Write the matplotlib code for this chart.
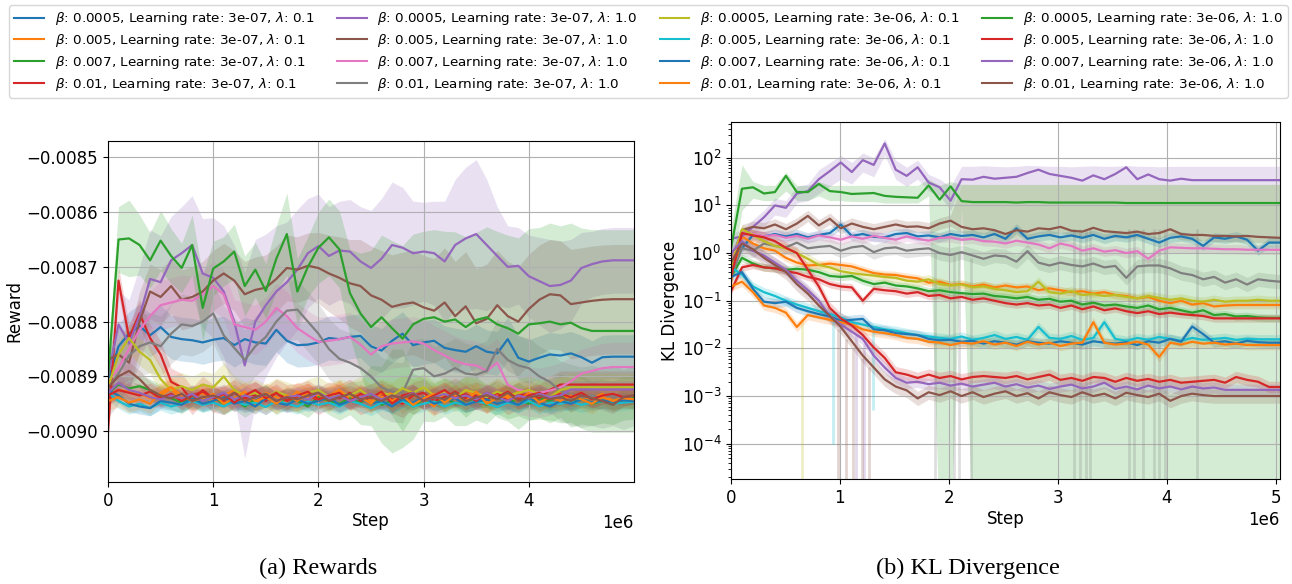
import numpy as np
import matplotlib
matplotlib.use("Agg")
import matplotlib.pyplot as plt
from matplotlib.lines import Line2D

# ---------------- legend / series identity ----------------
betas = ["0.0005", "0.005", "0.007", "0.01"] * 4
lrs = ["3e-07"] * 8 + ["3e-06"] * 8
lams = (["0.1"] * 4 + ["1.0"] * 4) * 2
labels = [rf"$\beta$: {b}, Learning rate: {lr}, $\lambda$: {l}"
          for b, lr, l in zip(betas, lrs, lams)]
colors = [f"C{k % 10}" for k in range(16)]

# ---------------- x values ----------------
steps_reward = np.linspace(0, 5.0e6, 51)
steps_kl = np.linspace(0, 5.04e6, 51)

# ---------------- Reward means (units of 1e-6) ----------------
reward_k0 = [-8910, -8845, -8822, -8808, -8825, -8810, -8828, -8832, -8834, -8838,
             -8833, -8830, -8843, -8832, -8838, -8840, -8815, -8835, -8843, -8842,
             -8838, -8830, -8832, -8828, -8826, -8845, -8853, -8835, -8822, -8843,
             -8838, -8835, -8848, -8852, -8855, -8845, -8855, -8858, -8832, -8866,
             -8873, -8866, -8860, -8862, -8858, -8865, -8875, -8865, -8864, -8864,
             -8864]
reward_k1 = [-8935, -8925, -8928, -8932, -8940, -8935, -8922, -8945, -8938, -8930,
             -8948, -8935, -8925, -8942, -8950, -8930, -8938, -8945, -8928, -8940,
             -8935, -8948, -8925, -8940, -8932, -8945, -8938, -8930, -8950, -8935,
             -8940, -8955, -8930, -8942, -8925, -8938, -8948, -8932, -8940, -8928,
             -8945, -8935, -8942, -8930, -8948, -8938, -8940, -8932, -8945, -8938,
             -8940]
reward_k2 = [-8930, -8915, -8922, -8918, -8925, -8935, -8940, -8948, -8935, -8945,
             -8938, -8950, -8940, -8955, -8942, -8935, -8950, -8940, -8945, -8955,
             -8938, -8945, -8950, -8940, -8948, -8935, -8952, -8945, -8940, -8955,
             -8942, -8948, -8938, -8950, -8945, -8940, -8952, -8938, -8948, -8942,
             -8950, -8940, -8945, -8935, -8948, -8942, -8950, -8945, -8948, -8940,
             -8938]
reward_k3 = [-9000, -8725, -8830, -8785, -8830, -8860, -8910, -8920, -8945, -8925,
             -8940, -8945, -8930, -8940, -8935, -8945, -8930, -8940, -8938, -8932,
             -8945, -8935, -8940, -8930, -8945, -8938, -8932, -8942, -8950, -8935,
             -8930, -8945, -8938, -8928, -8940, -8935, -8942, -8930, -8945, -8935,
             -8932, -8940, -8925, -8915, -8915, -8915, -8915, -8915, -8915, -8915,
             -8915]
reward_k4 = [-8900, -8805, -8840, -8790, -8722, -8728, -8688, -8675, -8660, -8712,
             -8720, -8745, -8800, -8880, -8800, -8770, -8745, -8728, -8705, -8675,
             -8662, -8680, -8670, -8672, -8690, -8702, -8685, -8660, -8665, -8675,
             -8672, -8675, -8690, -8660, -8648, -8640, -8660, -8680, -8700, -8698,
             -8717, -8726, -8735, -8733, -8725, -8702, -8695, -8690, -8688, -8688,
             -8688]
reward_k5 = [-8870, -8860, -8875, -8800, -8745, -8755, -8735, -8760, -8755, -8745,
             -8725, -8712, -8725, -8750, -8742, -8738, -8722, -8702, -8705, -8698,
             -8702, -8712, -8720, -8730, -8735, -8752, -8760, -8773, -8768, -8765,
             -8774, -8780, -8765, -8790, -8772, -8803, -8795, -8770, -8790, -8800,
             -8777, -8760, -8750, -8752, -8768, -8765, -8762, -8760, -8759, -8759,
             -8759]
reward_k6 = [-8910, -8885, -8850, -8815, -8790, -8770, -8765, -8760, -8762, -8750,
             -8735, -8750, -8805, -8810, -8815, -8800, -8775, -8790, -8812, -8825,
             -8837, -8835, -8832, -8828, -8842, -8860, -8845, -8840, -8838, -8836,
             -8840, -8852, -8862, -8872, -8878, -8880, -8890, -8875, -8915, -8925,
             -8928, -8930, -8926, -8920, -8909, -8895, -8890, -8885, -8883, -8883,
             -8883]
reward_k7 = [-8920, -8895, -8862, -8845, -8838, -8845, -8822, -8805, -8808, -8800,
             -8785, -8825, -8848, -8870, -8845, -8828, -8800, -8780, -8778, -8800,
             -8822, -8850, -8868, -8875, -8885, -8900, -8920, -8928, -8930, -8888,
             -8885, -8900, -8895, -8885, -8895, -8897, -8890, -8850, -8870, -8880,
             -8885, -8900, -8910, -8927, -8933, -8938, -8935, -8940, -8935, -8942,
             -8935]
reward_k8 = [-8920, -8860, -8830, -8855, -8870, -8905, -8925, -8918, -8925, -8915,
             -8920, -8900, -8925, -8935, -8930, -8940, -8928, -8935, -8942, -8930,
             -8925, -8938, -8930, -8935, -8925, -8940, -8930, -8935, -8922, -8930,
             -8920, -8935, -8928, -8940, -8925, -8930, -8938, -8928, -8935, -8930,
             -8925, -8932, -8938, -8925, -8920, -8920, -8920, -8920, -8920, -8920,
             -8920]
reward_k9 = [-8930, -8945, -8955, -8950, -8958, -8948, -8955, -8950, -8945, -8952,
             -8948, -8955, -8945, -8952, -8948, -8956, -8945, -8950, -8955, -8946,
             -8952, -8948, -8955, -8945, -8950, -8958, -8948, -8952, -8945, -8955,
             -8950, -8946, -8955, -8948, -8952, -8945, -8950, -8956, -8948, -8952,
             -8945, -8955, -8948, -8950, -8946, -8952, -8948, -8945, -8950, -8948,
             -8946]
reward_k10 = [-8925, -8935, -8950, -8955, -8958, -8945, -8948, -8952, -8940, -8950,
              -8945, -8938, -8950, -8945, -8955, -8940, -8948, -8952, -8942, -8950,
              -8945, -8938, -8952, -8945, -8940, -8950, -8945, -8955, -8942, -8948,
              -8938, -8950, -8945, -8940, -8952, -8946, -8942, -8950, -8945, -8952,
              -8940, -8948, -8955, -8945, -8950, -8942, -8948, -8944, -8946, -8944,
              -8945]
reward_k11 = [-8945, -8938, -8948, -8942, -8950, -8930, -8920, -8935, -8945, -8940,
              -8932, -8950, -8940, -8928, -8945, -8938, -8950, -8935, -8945, -8930,
              -8942, -8935, -8925, -8945, -8938, -8950, -8930, -8945, -8935, -8952,
              -8940, -8932, -8948, -8935, -8945, -8928, -8950, -8940, -8935, -8945,
              -8930, -8948, -8938, -8945, -8935, -8942, -8950, -8938, -8945, -8940,
              -8942]
reward_k12 = [-8900, -8650, -8648, -8660, -8688, -8652, -8680, -8702, -8660, -8775,
              -8703, -8690, -8672, -8735, -8705, -8744, -8685, -8640, -8745, -8700,
              -8665, -8646, -8668, -8748, -8785, -8810, -8792, -8812, -8831, -8805,
              -8795, -8792, -8800, -8796, -8810, -8797, -8792, -8805, -8812, -8822,
              -8805, -8803, -8800, -8805, -8802, -8812, -8817, -8817, -8817, -8817,
              -8817]
reward_k13 = [-8935, -8925, -8930, -8935, -8928, -8940, -8932, -8945, -8935, -8928,
              -8940, -8932, -8948, -8935, -8925, -8940, -8930, -8945, -8935, -8928,
              -8942, -8935, -8930, -8945, -8932, -8940, -8928, -8950, -8935, -8930,
              -8945, -8935, -8925, -8940, -8932, -8945, -8930, -8938, -8928, -8942,
              -8935, -8930, -8940, -8932, -8938, -8930, -8942, -8935, -8932, -8938,
              -8935]
reward_k14 = [-8930, -8912, -8925, -8930, -8938, -8942, -8935, -8940, -8932, -8945,
              -8938, -8930, -8942, -8935, -8940, -8932, -8945, -8938, -8935, -8942,
              -8930, -8940, -8935, -8945, -8938, -8932, -8942, -8935, -8940, -8930,
              -8945, -8938, -8932, -8940, -8935, -8942, -8930, -8938, -8945, -8935,
              -8940, -8932, -8938, -8935, -8924, -8924, -8924, -8924, -8924, -8924,
              -8924]
reward_k15 = [-8920, -8900, -8890, -8905, -8925, -8935, -8940, -8932, -8945, -8938,
              -8935, -8942, -8930, -8945, -8938, -8932, -8945, -8938, -8942, -8935,
              -8930, -8945, -8938, -8932, -8942, -8938, -8945, -8935, -8940, -8932,
              -8945, -8938, -8942, -8930, -8945, -8938, -8935, -8942, -8930, -8945,
              -8938, -8935, -8942, -8938, -8945, -8935, -8940, -8945, -8952, -8938,
              -8935]

# Reward std (units of 1e-6)
reward_sd_k12 = [30, 60, 70, 55, 50, 55, 50, 45, 55, 60,
                 50, 45, 50, 55, 50, 50, 60, 75, 60, 55,
                 65, 70, 70, 80, 110, 140, 150, 160, 170, 165,
                 160, 160, 165, 160, 165, 160, 165, 170, 170, 175,
                 175, 175, 180, 180, 182, 183, 185, 185, 185, 185,
                 185]
reward_sd_k4 = [20, 60, 80, 90, 90, 85, 80, 85, 90, 100,
                110, 120, 140, 170, 150, 130, 120, 110, 110, 100,
                95, 90, 90, 95, 100, 105, 110, 115, 110, 95,
                90, 95, 110, 120, 130, 136, 120, 90, 75, 70,
                75, 80, 85, 80, 75, 65, 60, 60, 60, 60,
                60]
reward_sd_k5 = [20, 50, 55, 55, 50, 50, 50, 55, 55, 55,
                55, 55, 55, 60, 60, 60, 60, 60, 60, 60,
                65, 70, 75, 80, 85, 90, 90, 95, 95, 95,
                95, 95, 100, 100, 100, 100, 100, 100, 100, 100,
                100, 100, 100, 100, 100, 100, 100, 100, 100, 100,
                100]
reward_sd_k2 = [15, 20, 20, 20, 20, 20, 20, 20, 20, 20,
                20, 20, 20, 20, 20, 20, 20, 20, 20, 20,
                20, 25, 30, 30, 40, 55, 70, 95, 90, 60,
                40, 35, 35, 40, 45, 40, 35, 30, 30, 30,
                30, 35, 40, 40, 45, 45, 40, 40, 40, 40,
                40]
reward_sd_const = [40, 18, None, 25, None, None, 45, 55, 25, 14, 14, 18, None, 16, 16, 16]

# ---------------- KL means (log10) ----------------
kl_k0 = [-0.3, 0.1, 0.38, 0.35, 0.4, 0.35, 0.4, 0.33, 0.38, 0.42,
         0.6, 0.36, 0.4, 0.34, 0.33, 0.4, 0.42, 0.35, 0.37, 0.33,
         0.4, 0.36, 0.38, 0.33, 0.4, 0.3, 0.52, 0.3, 0.35, 0.38,
         0.33, 0.37, 0.32, 0.38, 0.3, 0.36, 0.33, 0.38, 0.3, 0.22,
         0.32, 0.35, 0.3, 0.15, 0.33, 0.3, 0.35, 0.28, 0.05, 0.22,
         0.22]
kl_k1 = [-0.6, 0.35, 0.2, 0.1, 0.05, -0.1, -0.2, -0.26, -0.25, -0.22,
         -0.25, -0.28, -0.35, -0.42, -0.45, -0.46, -0.5, -0.53, -0.62, -0.6,
         -0.67, -0.65, -0.7, -0.66, -0.72, -0.68, -0.72, -0.7, -0.78, -0.74,
         -0.78, -0.82, -0.8, -0.85, -0.82, -0.88, -0.9, -0.95, -0.92, -1.0,
         -1.05, -1.0, -1.08, -1.05, -1.12, -1.1, -1.09, -1.09, -1.09, -1.09,
         -1.09]
kl_k2 = [-0.5, -0.1, -0.22, -0.3, -0.32, -0.35, -0.33, -0.35, -0.4, -0.48,
         -0.5, -0.48, -0.58, -0.65, -0.62, -0.68, -0.7, -0.74, -0.8, -0.78,
         -0.82, -0.84, -0.86, -0.85, -0.9, -0.92, -0.95, -0.92, -0.98, -0.96,
         -1.02, -1.0, -1.08, -1.04, -1.1, -1.08, -1.12, -1.15, -1.1, -1.18,
         -1.15, -1.2, -1.25, -1.2, -1.3, -1.28, -1.33, -1.32, -1.35, -1.36,
         -1.36]
kl_k3 = [-0.8, -0.3, -0.25, -0.3, -0.32, -0.38, -0.42, -0.5, -0.55, -0.65,
         -0.7, -0.72, -1.0, -0.75, -0.78, -0.8, -0.85, -0.82, -0.9, -0.88,
         -0.95, -0.92, -0.98, -0.95, -1.0, -1.05, -1.08, -1.05, -1.1, -1.08,
         -1.15, -1.1, -1.18, -1.12, -1.2, -1.16, -1.22, -1.26, -1.22, -1.28,
         -1.25, -1.28, -1.3, -1.32, -1.37, -1.37, -1.37, -1.37, -1.37, -1.37,
         -1.37]
kl_k4 = [0.3, 0.35, 0.55, 0.75, 1.0, 0.95, 1.25, 1.3, 1.55, 1.72,
         1.9, 1.7, 1.95, 1.85, 2.3, 1.75, 1.62, 1.8, 1.48, 1.38,
         1.1, 1.55, 1.54, 1.6, 1.56, 1.58, 1.6, 1.68, 1.75, 1.66,
         1.62, 1.58, 1.52, 1.63, 1.55, 1.66, 1.8, 1.55, 1.65, 1.55,
         1.52, 1.56, 1.53, 1.53, 1.53, 1.53, 1.53, 1.53, 1.53, 1.53,
         1.53]
kl_k5 = [-0.2, 0.48, 0.55, 0.52, 0.6, 0.5, 0.62, 0.78, 0.58, 0.72,
         0.52, 0.62, 0.55, 0.5, 0.55, 0.6, 0.55, 0.56, 0.52, 0.62,
         0.68, 0.55, 0.5, 0.52, 0.48, 0.4, 0.48, 0.45, 0.52, 0.5,
         0.55, 0.47, 0.45, 0.53, 0.46, 0.44, 0.42, 0.45, 0.4, 0.42,
         0.5, 0.4, 0.38, 0.38, 0.36, 0.36, 0.35, 0.36, 0.34, 0.33,
         0.32]
kl_k6 = [-0.2, 0.45, 0.4, 0.35, 0.38, 0.32, 0.36, 0.3, 0.37, 0.33,
         0.28, 0.35, 0.3, 0.36, 0.32, 0.28, 0.35, 0.3, 0.26, 0.32,
         0.33, 0.28, 0.3, 0.25, 0.24, 0.2, 0.26, 0.22, 0.18, 0.1,
         0.2, 0.15, 0.05, 0.1, 0.03, 0.06, 0.0, 0.04, -0.12, 0.05,
         0.12, 0.11, 0.1, 0.1, 0.09, 0.08, 0.08, 0.07, 0.07, 0.07,
         0.07]
kl_k7 = [-0.5, 0.1, 0.05, 0.2, 0.15, 0.12, 0.22, 0.1, 0.13, 0.15,
         0.05, 0.12, 0.15, 0.02, 0.1, 0.12, 0.05, 0.08, 0.1, 0.0,
         -0.04, 0.02, -0.05, -0.12, -0.05, -0.07, -0.18, 0.04, -0.2, -0.26,
         -0.2, -0.25, -0.28, -0.22, -0.3, -0.27, -0.52, -0.28, -0.26, -0.26,
         -0.32, -0.42, -0.46, -0.55, -0.5, -0.62, -0.55, -0.66, -0.55, -0.58,
         -0.6]
kl_k8 = [-0.3, 0.5, 0.38, 0.25, 0.15, 0.1, 0.0, -0.12, -0.25, -0.3,
         -0.38, -0.42, -0.45, -0.47, -0.5, -0.52, -0.58, -0.6, -0.55, -0.65,
         -0.68, -0.66, -0.72, -0.7, -0.75, -0.78, -0.82, -0.8, -0.6, -0.82,
         -0.85, -0.8, -0.88, -0.86, -0.9, -0.88, -0.92, -0.95, -0.9, -0.94,
         -0.98, -0.95, -1.0, -1.02, -0.98, -1.02, -1.0, -1.0, -0.98, -1.0,
         -1.0]
kl_k9 = [-0.3, -0.45, -0.7, -0.82, -0.9, -1.0, -1.08, -1.15, -1.22, -1.28,
         -1.35, -1.45, -1.5, -1.55, -1.6, -1.63, -1.68, -1.72, -1.75, -1.78,
         -1.8, -1.75, -1.82, -1.78, -1.72, -1.8, -1.76, -1.82, -1.55, -1.78,
         -1.8, -1.74, -1.82, -1.78, -1.45, -1.8, -1.84, -1.78, -1.82, -1.76,
         -1.8, -1.84, -1.78, -1.82, -1.8, -1.78, -1.82, -1.8, -1.81, -1.81,
         -1.81]
kl_k10 = [-0.5, -0.4, -0.75, -1.02, -1.05, -1.02, -1.15, -1.22, -1.28, -1.33,
          -1.42, -1.4, -1.38, -1.6, -1.62, -1.68, -1.7, -1.72, -1.8, -1.83,
          -1.82, -1.86, -1.84, -1.9, -1.85, -1.88, -1.92, -1.85, -1.88, -1.9,
          -1.85, -1.88, -1.92, -1.85, -1.88, -1.9, -1.87, -1.93, -1.85, -1.88,
          -1.8, -1.86, -1.54, -1.7, -1.88, -1.85, -1.9, -1.84, -1.87, -1.88,
          -1.88]
kl_k11 = [-0.7, -0.6, -0.82, -1.1, -1.15, -1.25, -1.55, -1.3, -1.35, -1.4,
          -1.45, -1.5, -1.6, -1.65, -1.68, -1.72, -1.78, -1.8, -1.86, -1.88,
          -1.93, -1.88, -1.9, -1.85, -1.92, -1.88, -1.95, -1.86, -1.92, -1.88,
          -1.95, -1.9, -1.88, -1.45, -1.88, -1.92, -1.9, -1.86, -1.92, -2.18,
          -1.88, -1.92, -1.86, -1.9, -1.88, -1.92, -1.9, -1.93, -1.93, -1.93,
          -1.93]
kl_k12 = [0.1, 1.35, 1.38, 1.25, 1.28, 1.62, 1.28, 1.28, 1.45, 1.3,
          1.28, 1.24, 1.25, 1.26, 1.2, 1.18, 1.17, 1.16, 1.42, 1.12,
          1.4, 1.09, 1.07, 1.07, 1.07, 1.07, 1.06, 1.07, 1.07, 1.06,
          1.06, 1.06, 1.06, 1.06, 1.06, 1.06, 1.05, 1.05, 1.05, 1.05,
          1.05, 1.05, 1.05, 1.05, 1.05, 1.05, 1.05, 1.05, 1.05, 1.05,
          1.05]
kl_k13 = [-0.5, 0.42, 0.37, 0.33, 0.25, 0.11, 0.0, -0.35, -0.7, -1.15,
          -1.37, -1.52, -1.72, -1.98, -2.2, -2.5, -2.55, -2.62, -2.55, -2.62,
          -2.58, -2.65, -2.6, -2.58, -2.6, -2.62, -2.58, -2.65, -2.6, -2.55,
          -2.66, -2.62, -2.68, -2.6, -2.62, -2.7, -2.62, -2.68, -2.64, -2.7,
          -2.66, -2.72, -2.7, -2.68, -2.66, -2.72, -2.6, -2.66, -2.7, -2.81,
          -2.81]
kl_k14 = [0.0, 0.25, 0.05, -0.05, -0.2, -0.35, -0.58, -0.78, -1.0, -1.32,
          -1.5, -1.65, -1.8, -2.15, -2.4, -2.62, -2.72, -2.7, -2.75, -2.72,
          -2.78, -2.74, -2.8, -2.76, -2.72, -2.8, -2.75, -2.82, -2.78, -2.85,
          -2.8, -2.76, -2.84, -2.8, -2.72, -2.85, -2.8, -2.86, -2.78, -2.84,
          -2.8, -2.86, -2.8, -2.84, -2.82, -2.87, -2.87, -2.87, -2.87, -2.87,
          -2.87]
kl_k15 = [-0.2, 0.2, 0.08, -0.1, -0.25, -0.4, -0.65, -0.85, -1.1, -1.32,
          -1.55, -1.85, -2.15, -2.4, -2.65, -2.8, -2.88, -3.05, -2.92, -2.98,
          -2.9, -3.0, -2.92, -3.02, -2.95, -2.9, -3.0, -2.94, -3.05, -2.92,
          -2.98, -3.02, -2.92, -3.0, -2.95, -3.05, -2.93, -2.98, -3.02, -2.95,
          -3.1, -3.0, -2.95, -2.98, -3.0, -3.0, -3.0, -3.0, -3.0, -3.0,
          -3.0]

# KL band edges (log10); -6 means the lower edge fell to zero
kl_hi_k12 = [0.5, 1.85, 1.5, 1.42, 1.42, 1.7, 1.42, 1.42, 1.5, 1.42,
             1.42, 1.42, 1.42, 1.42, 1.42, 1.42, 1.42, 1.42, 1.55, 1.42,
             1.5, 1.44, 1.44, 1.44, 1.44, 1.44, 1.44, 1.44, 1.44, 1.44,
             1.44, 1.44, 1.44, 1.44, 1.44, 1.44, 1.44, 1.44, 1.44, 1.44,
             1.44, 1.44, 1.44, 1.44, 1.44, 1.44, 1.44, 1.44, 1.44, 1.44,
             1.44]
kl_lo_k12 = [-0.5, 0.9, 1.15, 1.1, 1.1, 1.3, 1.1, 1.1, 1.2, 1.1,
             1.1, 1.08, 1.08, 1.08, 1.05, 1.05, 1.05, 1.05, 1.2, -6,
             -6, 0.95, -6, -6, -6, -6, -6, -6, -6, -6,
             -6, -6, -6, -6, -6, -6, -6, -6, -6, -6,
             -6, -6, -6, -6, -6, -6, -6, -6, -6, -6,
             -6]
kl_hi_k4 = [0.4, 0.5, 0.7, 0.9, 1.15, 1.1, 1.4, 1.45, 1.75, 1.9,
            2.05, 1.9, 2.1, 2.0, 2.4, 1.95, 1.8, 1.95, 1.65, 1.55,
            1.4, 1.82, 1.82, 1.83, 1.82, 1.81, 1.82, 1.84, 1.83, 1.82,
            1.82, 1.81, 1.82, 1.83, 1.82, 1.82, 1.84, 1.82, 1.82, 1.81,
            1.82, 1.82, 1.82, 1.82, 1.82, 1.82, 1.82, 1.82, 1.82, 1.82,
            1.82]
kl_lo_k4 = [-0.2, 0.2, 0.4, 0.55, 0.8, 0.75, 1.05, 1.1, 1.25, 1.4,
            1.55, 1.45, 1.7, 1.6, 2.05, 1.55, 1.4, 1.55, 1.3, 1.2,
            0.9, 1.44, 1.44, 1.44, 1.44, 1.44, 1.44, 1.44, 1.44, 1.44,
            1.44, 1.44, 1.44, 1.44, 1.44, 1.44, 1.44, 1.44, 1.44, 1.44,
            1.44, 1.44, 1.44, 1.44, 1.44, 1.44, 1.44, 1.44, 1.44, 1.44,
            1.44]
kl_hi_k5 = [-0.05, 0.6, 0.67, 0.64, 0.72, 0.62, 0.74, 0.9, 0.7, 0.84,
            0.64, 0.74, 0.67, 0.62, 0.67, 0.72, 0.67, 0.68, 0.64, 0.74,
            0.8, 1.44, 1.44, 1.44, 1.44, 1.44, 1.44, 1.44, 1.44, 1.44,
            1.44, 1.44, 1.44, 1.44, 1.44, 1.44, 1.44, 1.44, 1.44, 1.44,
            1.44, 1.44, 1.44, 1.44, 1.44, 1.44, 1.44, 1.44, 1.44, 1.44,
            1.44]
kl_halo = [0.1, 0.08, 0.08, 0.08, 0.15, 0.12, 0.1, 0.15,
           0.1, 0.1, 0.1, 0.1, 0.15, 0.12, 0.12, 0.15]

# Points where a series' lower band collapsed to ~0: (step, top log10, bottom log10)
kl_dropouts_k7 = [(1.87e6, 0.0, -6), (2.05e6, 0.0, -6), (2.09e6, 0.0, -6), (2.2e6, -0.1, -6),
                  (3.15e6, 0.5, -6), (3.2e6, 0.5, -6), (3.26e6, 0.5, -6), (3.3e6, 0.5, -6),
                  (3.65e6, 0.5, -6), (3.7e6, 0.5, -6), (3.78e6, 0.5, -6), (3.88e6, 0.5, -6),
                  (3.93e6, 0.5, -6), (3.98e6, 0.5, -6), (4.28e6, 0.5, -6)]
kl_dropouts_k8 = [(0.65e6, -1.4, -6)]
kl_dropouts_k9 = [(0.94e6, -1.4, -4.0), (1.3e6, -1.6, -3.3)]
kl_dropouts_k14 = [(1.15e6, -1.7, -6), (1.22e6, -1.9, -6)]
kl_dropouts_k15 = [(0.98e6, -1.6, -6), (1.06e6, -1.8, -6), (1.12e6, -2.0, -6),
                   (1.2e6, -2.2, -6), (1.27e6, -2.4, -6)]

reward_series = [reward_k0, reward_k1, reward_k2, reward_k3, reward_k4, reward_k5,
                 reward_k6, reward_k7, reward_k8, reward_k9, reward_k10, reward_k11,
                 reward_k12, reward_k13, reward_k14, reward_k15]
reward_sd_arrays = {2: reward_sd_k2, 4: reward_sd_k4, 5: reward_sd_k5, 12: reward_sd_k12}
kl_series = [kl_k0, kl_k1, kl_k2, kl_k3, kl_k4, kl_k5, kl_k6, kl_k7,
             kl_k8, kl_k9, kl_k10, kl_k11, kl_k12, kl_k13, kl_k14, kl_k15]
kl_hi_arrays = {4: kl_hi_k4, 5: kl_hi_k5, 12: kl_hi_k12}
kl_lo_arrays = {4: kl_lo_k4, 12: kl_lo_k12}
kl_dropouts = {7: kl_dropouts_k7, 8: kl_dropouts_k8, 9: kl_dropouts_k9,
               14: kl_dropouts_k14, 15: kl_dropouts_k15}

# ---------------- figure ----------------
plt.rcParams["font.size"] = 12
W, H = 1292, 584
fig = plt.figure(figsize=(W / 100, H / 100), dpi=100)
ax1 = fig.add_axes([108 / W, 1 - 482 / H, 526 / W, 341 / H])
ax2 = fig.add_axes([731 / W, 1 - 479 / H, 549 / W, 357 / H])

SCALE = 1e-6
for k in range(16):
    m = np.array(reward_series[k], float)
    sd = np.array(reward_sd_arrays[k], float) if k in reward_sd_arrays else reward_sd_const[k]
    ax1.fill_between(steps_reward, (m - sd) * SCALE, (m + sd) * SCALE,
                     color=colors[k], alpha=0.2, lw=0)
for k in range(16):
    m = np.array(reward_series[k], float)
    ax1.plot(steps_reward, m * SCALE, color=colors[k], lw=1.6)

ax1.set_xlim(0, 5.0e6)
ax1.set_ylim(-0.009093, -0.008470)
ax1.set_yticks([-0.0085, -0.0086, -0.0087, -0.0088, -0.0089, -0.0090])
ax1.set_xticks([0, 1e6, 2e6, 3e6, 4e6])
ax1.grid(True, color="#b0b0b0", lw=0.8)
ax1.set_xlabel("Step", labelpad=2)
ax1.set_ylabel("Reward", labelpad=2)

for k in range(16):
    m = np.array(kl_series[k], float)
    hi = np.array(kl_hi_arrays[k], float) if k in kl_hi_arrays else m + kl_halo[k]
    lo = np.array(kl_lo_arrays[k], float) if k in kl_lo_arrays else m - kl_halo[k]
    ax2.fill_between(steps_kl, 10 ** lo, 10 ** hi, color=colors[k], alpha=0.2, lw=0)
for k, drops in kl_dropouts.items():
    for s, top, bot in drops:
        ax2.vlines(s, 10 ** bot, 10 ** top, color=colors[k], alpha=0.25, lw=2)
for k in range(16):
    m = np.array(kl_series[k], float)
    ax2.plot(steps_kl, 10 ** m, color=colors[k], lw=1.6)

ax2.set_yscale("log")
ax2.set_xlim(0, 5.04e6)
ax2.set_ylim(10 ** -4.74, 10 ** 2.75)
ax2.set_xticks([0, 1e6, 2e6, 3e6, 4e6, 5e6])
ax2.grid(True, color="#b0b0b0", lw=0.8)
ax2.set_xlabel("Step", labelpad=2)
ax2.set_ylabel("KL Divergence", labelpad=2)

handles = [Line2D([], [], color=c, lw=1.5) for c in colors]
fig.legend(handles, labels, ncol=4, loc="upper left",
           bbox_to_anchor=(9 / W, 1 - 5 / H, 1279 / W, 0), mode="expand",
           fontsize=9.7, labelspacing=0.35, handlelength=2.2, borderaxespad=0)

fig.text(318 / W, 1 - 568 / H, "(a) Rewards", ha="center", va="center",
         family="Liberation Serif", size=17.5)
fig.text(968 / W, 1 - 568 / H, "(b) KL Divergence", ha="center", va="center",
         family="Liberation Serif", size=17.5)

fig.savefig("out.png", dpi=100)
